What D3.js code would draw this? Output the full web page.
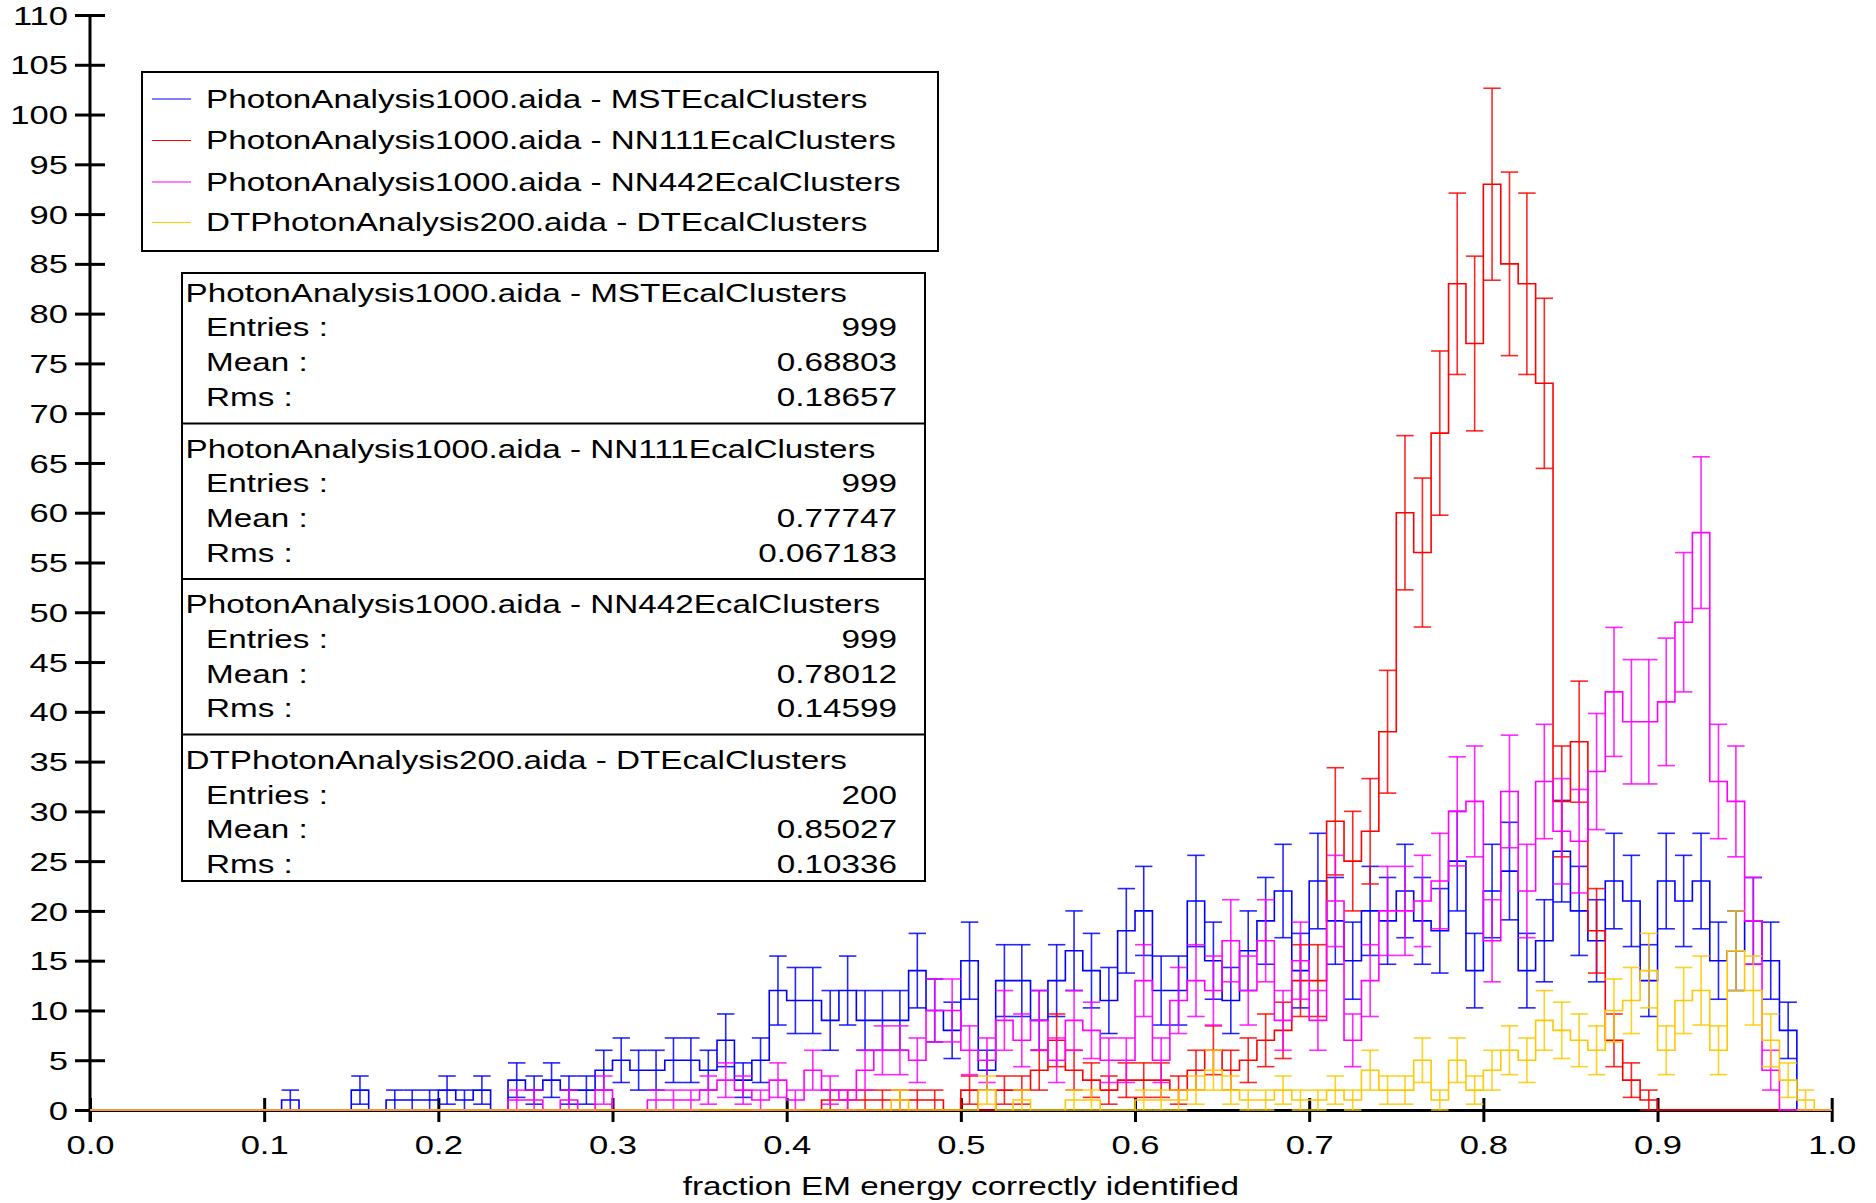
<!DOCTYPE html>
<html><head><meta charset="utf-8">
<script src="https://cdn.jsdelivr.net/npm/d3@7/dist/d3.min.js"></script>
<style>
body{margin:0;background:#fff}
text{font-family:"Liberation Sans",Arial,Helvetica,sans-serif;fill:#000}
</style>
</head><body>
<svg id="chart" width="1876" height="1203"></svg>
<script>
// ---------------- data ----------------
const xDomain = [0, 1];
const yDomain = [0, 110];
const nBins = 100;
const xTickValues = [0, 0.1, 0.2, 0.3, 0.4, 0.5, 0.6, 0.7, 0.8, 0.9, 1.0];
const yTickValues = [0,5,10,15,20,25,30,35,40,45,50,55,60,65,70,75,80,85,90,95,100,105,110];
const xAxisTitle = "fraction EM energy correctly identified";

const seriesNames = [
  "PhotonAnalysis1000.aida - MSTEcalClusters",
  "PhotonAnalysis1000.aida - NN111EcalClusters",
  "PhotonAnalysis1000.aida - NN442EcalClusters",
  "DTPhotonAnalysis200.aida - DTEcalClusters"
];
const seriesColors = ["#0000ff", "#ff0000", "#ff00ff", "#ffc800"];

const mstCounts = [
  0,0,0,0,0,0,0,0,0,0,
  0,1,0,0,0,2,0,1,1,1,
  2,1,2,0,3,2,3,2,2,4,
  5,4,4,5,5,4,7,3,5,12,
  11,11,9,12,9,9,9,14,10,8,
  15,4,13,13,9,13,16,14,11,18,
  20,12,12,21,15,11,16,19,22,14,
  23,19,15,20,19,22,19,18,25,14,
  22,24,14,17,26,20,17,23,21,13,
  23,21,23,15,16,19,15,8,0,0
];
const nn111Counts = [
  0,0,0,0,0,0,0,0,0,0,
  0,0,0,0,0,0,0,0,0,0,
  0,0,0,0,0,0,0,0,0,0,
  0,0,0,0,0,0,0,0,0,0,
  0,0,1,1,1,1,1,1,1,0,
  2,0,2,2,4,7,4,3,2,3,
  3,3,2,4,6,4,5,7,8,13,
  13,29,25,28,38,60,56,68,83,77,
  93,85,83,73,31,37,18,7,3,1,
  0,0,0,0,0,0,0,0,0,0
];
const nn442Counts = [
  0,0,0,0,0,0,0,0,0,0,
  0,0,0,0,0,0,0,0,0,0,
  0,0,0,0,1,1,0,1,0,2,
  0,0,1,1,1,2,3,2,1,3,
  1,4,2,1,4,6,6,5,10,10,
  6,5,9,7,9,5,9,8,5,5,
  13,5,11,13,12,17,12,17,9,15,
  9,21,7,13,20,20,21,23,30,31,
  17,32,22,33,28,27,34,42,39,39,
  41,49,58,33,31,19,4,0,0,0
];
const dtCounts = [
  0,0,0,0,0,0,0,0,0,0,
  0,0,0,0,0,0,0,0,0,0,
  0,0,0,0,0,0,0,0,0,0,
  0,0,0,0,0,0,0,0,0,0,
  0,0,0,0,0,0,1,0,0,0,
  0,2,0,1,0,0,1,1,0,0,
  1,1,1,2,4,2,1,1,2,1,
  1,2,1,4,2,2,5,1,5,2,
  4,6,5,9,8,7,6,10,11,14,
  6,11,12,6,16,12,7,3,1,0
];

const statLabels = ["Entries :", "Mean :", "Rms :"];
const statEntries = ["999", "999", "999", "200"];
const statMeans = ["0.68803", "0.77747", "0.78012", "0.85027"];
const statRms = ["0.18657", "0.067183", "0.14599", "0.10336"];

// ---------------- chart ----------------
const SX = 1.33; // horizontal text stretch of the original rendering
const svg = d3.select("#chart");
const x = d3.scaleLinear().domain(xDomain).range([90, 1831.7]);
const y = d3.scaleLinear().domain(yDomain).range([1110, 15]);
const bw = (xDomain[1] - xDomain[0]) / nBins;

const allCounts = [mstCounts, nn111Counts, nn442Counts, dtCounts];

// axes
const xAxis = d3.axisBottom(x).tickValues(xTickValues).tickFormat(d3.format(".1f"))
  .tickSizeInner(12).tickSizeOuter(0).tickPadding(0);
const gx = svg.append("g").attr("transform", `translate(0,${y(0)})`).call(xAxis);
gx.select(".domain").attr("stroke", "#000").attr("stroke-width", 3);
gx.selectAll(".tick line").attr("y1", -12).attr("y2", 12).attr("stroke", "#000").attr("stroke-width", 3);
gx.selectAll(".tick text").attr("y", 35).attr("dy", "0.35em")
  .attr("transform", `scale(${SX},1)`).style("font-size", "26px").attr("fill", "#000");

const yAxis = d3.axisLeft(y).tickValues(yTickValues).tickSizeInner(15).tickSizeOuter(0).tickPadding(0);
const gy = svg.append("g").attr("transform", `translate(${x(0)},0)`).call(yAxis);
gy.select(".domain").attr("d", `M0,${y(110)}V${y(0) + 12}`).attr("stroke", "#000").attr("stroke-width", 3);
gy.selectAll(".tick line").attr("x1", 15).attr("x2", -15).attr("stroke", "#000").attr("stroke-width", 3);
gy.selectAll(".tick text").attr("x", -22 / SX).attr("dy", "0.35em")
  .attr("transform", `scale(${SX},1)`).style("font-size", "26px").attr("fill", "#000");

svg.append("text").attr("transform", `translate(${(x(0) + x(1)) / 2},1186) scale(${SX},1)`)
  .attr("text-anchor", "middle").attr("dy", "0.35em").style("font-size", "25px").text(xAxisTitle);

// histograms
const line = d3.line();
allCounts.forEach((counts, s) => {
  const g = svg.append("g").attr("fill", "none").attr("stroke", seriesColors[s]).attr("stroke-width", 1.6);
  const pts = [[x(0), y(0)]];
  counts.forEach((v, i) => {
    pts.push([x(i * bw), y(v)]);
    pts.push([x((i + 1) * bw), y(v)]);
  });
  pts.push([x(1), y(0)]);
  g.append("path").attr("d", line(pts));
  const eb = g.append("g").attr("stroke-opacity", 0.85);
  counts.forEach((v, i) => {
    if (v <= 0) return;
    const e = Math.sqrt(v);
    const x0 = x(i * bw), x1 = x((i + 1) * bw), xc = x((i + 0.5) * bw);
    eb.append("line").attr("x1", xc).attr("x2", xc).attr("y1", y(v - e)).attr("y2", y(v + e));
    eb.append("line").attr("x1", x0).attr("x2", x1).attr("y1", y(v + e)).attr("y2", y(v + e));
    eb.append("line").attr("x1", x0).attr("x2", x1).attr("y1", y(v - e)).attr("y2", y(v - e));
  });
});

// legend
const lg = svg.append("g");
lg.append("rect").attr("x", 142).attr("y", 72).attr("width", 796).attr("height", 179)
  .attr("fill", "#fff").attr("stroke", "#000").attr("stroke-width", 2);
const legendRowY = [99, 140.5, 182, 222.5];
seriesNames.forEach((n, i) => {
  lg.append("line").attr("x1", 152).attr("x2", 191).attr("y1", legendRowY[i]).attr("y2", legendRowY[i])
    .attr("stroke", seriesColors[i]).attr("stroke-width", 1.2);
  lg.append("text").attr("transform", `translate(206,${legendRowY[i]}) scale(${SX},1)`)
    .attr("dy", "0.35em").style("font-size", "25px").text(n);
});

// statistics box
const sg = svg.append("g");
sg.append("rect").attr("x", 182).attr("y", 273).attr("width", 743).attr("height", 608)
  .attr("fill", "#fff").attr("stroke", "#000").attr("stroke-width", 2);
const sectionTop = [273, 423.5, 579, 734.6];
sectionTop.slice(1).forEach(yy => {
  sg.append("line").attr("x1", 182).attr("x2", 925).attr("y1", yy).attr("y2", yy)
    .attr("stroke", "#000").attr("stroke-width", 2);
});
const statVals = [statEntries, statMeans, statRms];
seriesNames.forEach((n, i) => {
  const t0 = sectionTop[i] + (i === 0 ? 20 : 25.5);
  sg.append("text").attr("transform", `translate(185.5,${t0}) scale(${SX},1)`)
    .attr("dy", "0.35em").style("font-size", "25px").text(n);
  statLabels.forEach((lab, r) => {
    const yy = t0 + 34.7 * (r + 1);
    sg.append("text").attr("transform", `translate(206,${yy}) scale(${SX},1)`)
      .attr("dy", "0.35em").style("font-size", "25px").text(lab);
    sg.append("text").attr("transform", `translate(897,${yy}) scale(${SX},1)`)
      .attr("text-anchor", "end").attr("dy", "0.35em").style("font-size", "25px").text(statVals[r][i]);
  });
});
</script>
</body></html>
